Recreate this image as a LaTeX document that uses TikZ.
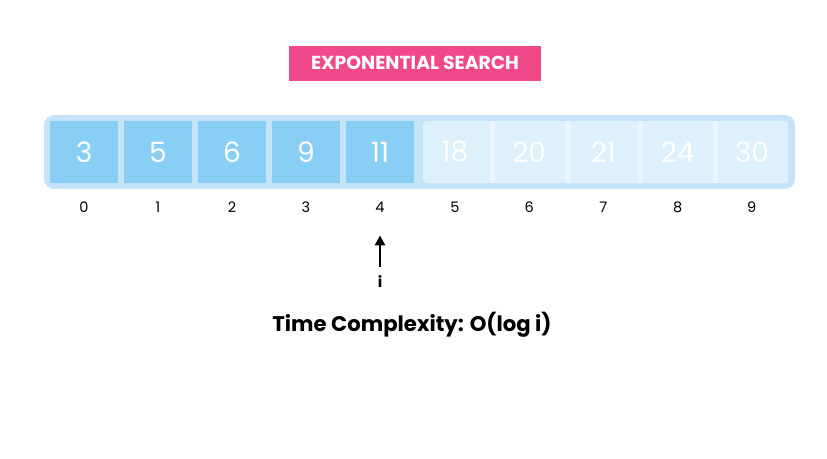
\documentclass[tikz,border=0pt]{standalone}
\usepackage{fontspec}
\setmainfont{Poppins}
\usetikzlibrary{arrows.meta,positioning}
\definecolor{pinkband}{RGB}{241,72,138}
\definecolor{cellblue}{RGB}{137,207,245}
\definecolor{rimblue}{RGB}{197,228,249}
\definecolor{paleblue}{RGB}{221,240,252}
\definecolor{sepblue}{RGB}{236,246,254}
\tikzset{
  banner/.style={rectangle,fill=pinkband,text=white,minimum width=252,minimum height=35,inner sep=0pt,font=\fontsize{18.8}{18.8}\selectfont\bfseries},
  cell/.style={rectangle,fill=cellblue,text=white,minimum width=68,minimum height=62,inner sep=0pt,font=\fontsize{28}{28}\selectfont},
  ghost/.style={rectangle,text=white,minimum width=68,minimum height=62,inner sep=0pt,font=\fontsize{28}{28}\selectfont},
  idx/.style={font=\fontsize{14.5}{14.5}\selectfont,inner sep=1pt},
  ptr/.style={-{Triangle[length=10pt,width=10pt]},line width=2.6pt}
}
\begin{document}
\begin{tikzpicture}[x=1pt,y=-1pt]
\useasboundingbox (0,0) rectangle (827,458);
\node[banner] (title) at (415,63) {EXPONENTIAL SEARCH};
% array frame
\fill[rimblue,rounded corners=10pt] (44,115) rectangle (795,189);
\fill[paleblue,rounded corners=4pt] (423,121) rectangle (788,183);
\foreach \x in {490,565,638,713}
  \fill[sepblue] (\x,121) rectangle (\x+5,183);
\fill[cellblue,rounded corners=4pt] (51,121) rectangle (70,183);
\foreach \v [count=\k from 0] in {3,5,6,9,11} {
  \node[cell] (c\k) at (84+74*\k,152) {\v};
  \node[idx] (n\k) at (84+74*\k,207) {\k};
}
\foreach \v [count=\k from 5] in {18,20,21,24,30} {
  \node[ghost] (c\k) at (455+74.2*\k-371,152) {\v};
  \node[idx] (n\k) at (455+74.2*\k-371,207) {\k};
}
\node[idx,font=\fontsize{15}{15}\selectfont\bfseries] (ivar) at (380,281) {i};
\draw[ptr,shorten <=7pt,shorten >=22pt] (ivar) -- (n4);
\node[font=\fontsize{21.2}{21.2}\selectfont\bfseries] (cost) at (412,325) {Time Complexity: O(log i)};
\end{tikzpicture}
\end{document}
